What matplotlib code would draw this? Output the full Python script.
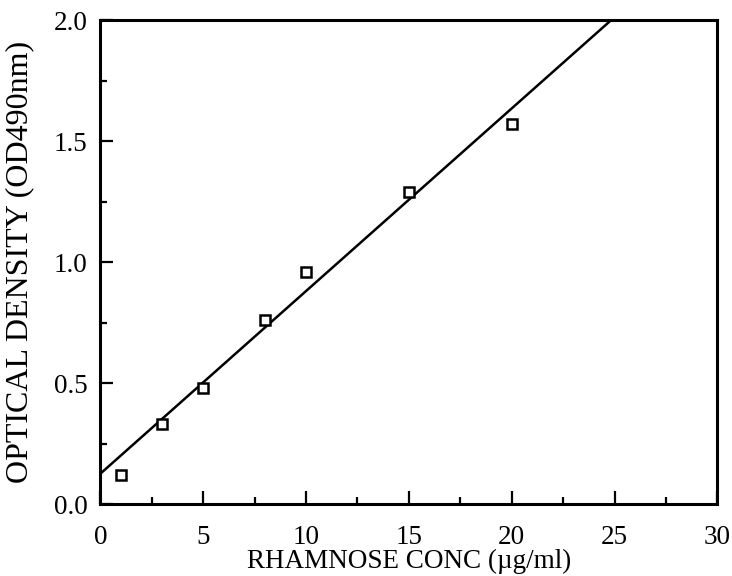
import numpy as np
import matplotlib
matplotlib.use("Agg")
import matplotlib.pyplot as plt
from matplotlib.ticker import MultipleLocator

# rhamnose standard curve
conc = [1, 3, 5, 8, 10, 15, 20]
od490 = [0.12, 0.33, 0.48, 0.76, 0.96, 1.29, 1.57]

# fitted line
fit_slope = 0.0755
fit_intercept = 0.125

plt.rcParams['font.family'] = ['Liberation Serif', 'DejaVu Serif']

fig = plt.figure(figsize=(7.32, 5.76), dpi=100)
ax = fig.add_axes([0.137, 0.125, 0.843, 0.84])

xs = np.array([0, 30])
ax.plot(xs, fit_intercept + fit_slope*xs, color='black', lw=1.8)
ax.plot(conc, od490, 's', ms=6.5, mfc='white', mec='black', mew=1.8, clip_on=False)

ax.set_xlim(0, 30)
ax.set_ylim(0, 2.0)
ax.xaxis.set_major_locator(MultipleLocator(5))
ax.xaxis.set_minor_locator(MultipleLocator(2.5))
ax.yaxis.set_major_locator(MultipleLocator(0.5))
ax.yaxis.set_minor_locator(MultipleLocator(0.25))
ax.yaxis.set_major_formatter(lambda v, p: f'{v:.1f}')

for s in ax.spines.values():
    s.set_linewidth(2.2)

ax.tick_params(which='both', direction='in', width=1.6, top=False, right=False)
ax.tick_params(which='major', length=9.5, labelsize=19.5)
ax.tick_params(which='minor', length=5)
ax.tick_params(axis='x', which='major', pad=15)
ax.tick_params(axis='y', which='major', pad=9)

ax.set_xlabel('RHAMNOSE CONC (µg/ml)', fontsize=19.5, labelpad=-1)
ax.set_ylabel('OPTICAL DENSITY (OD490nm)', fontsize=23, labelpad=14)

fig.savefig('out.png', dpi=100)
